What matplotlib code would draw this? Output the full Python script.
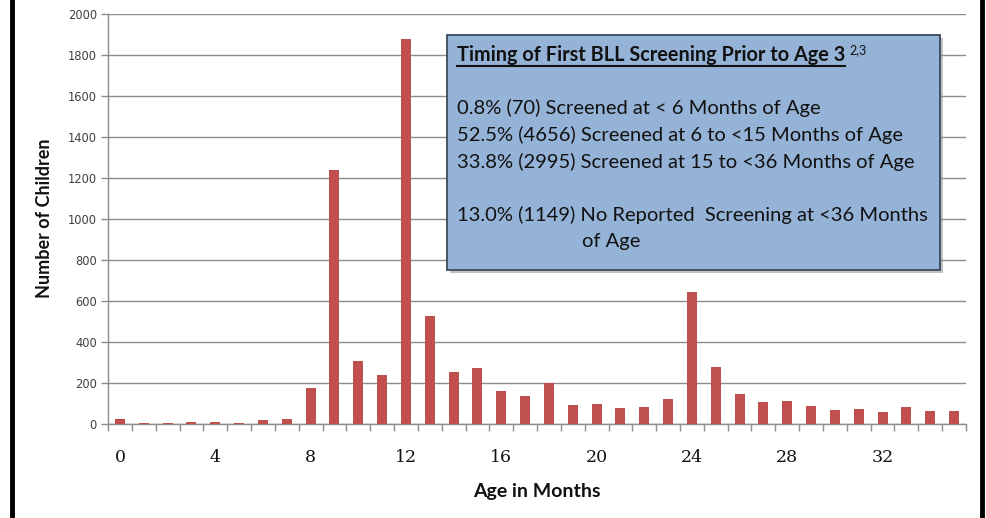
import matplotlib
matplotlib.use("Agg")
import matplotlib.pyplot as plt
from matplotlib.patches import Rectangle
from matplotlib.lines import Line2D

# ---- data ----
ages = list(range(36))
children = [25, 5, 5, 10, 10, 5, 20, 25, 175, 1237, 309, 238, 1876, 526, 253, 274,
            161, 136, 200, 95, 100, 77, 83, 120, 645, 280, 147, 105, 110, 88,
            67, 73, 57, 83, 62, 62]
xtick_vals = [0, 4, 8, 12, 16, 20, 24, 28, 32]
ytick_vals = list(range(0, 2001, 200))

box_title = "Timing of First BLL Screening Prior to Age 3"
box_sup = "2,3"
box_lines = [
    "0.8% (70) Screened at < 6 Months of Age",
    "52.5% (4656) Screened at 6 to <15 Months of Age",
    "33.8% (2995) Screened at 15 to <36 Months of Age",
]
box_last = "13.0% (1149) No Reported  Screening at <36 Months"
box_last2 = "of Age"

W, H = 986, 518
fig = plt.figure(figsize=(W / 100, H / 100), dpi=100)
fig.patch.set_facecolor("white")

def fx(px):
    return px / W

def fy(py):
    return 1 - py / H

ax = fig.add_axes([fx(108), fy(424), fx(966) - fx(108), fy(14) - fy(424)])
ax.bar(ages, children, width=0.42, color="#C0504D", zorder=3)
ax.set_xlim(-0.5, 35.5)
ax.set_ylim(0, 2000)

ax.set_yticks(ytick_vals)
ax.set_yticklabels([str(v) for v in ytick_vals], fontsize=8.3, color="#404040",
                   family="DejaVu Sans")
ax.tick_params(axis="y", length=5, color="#8c8c8c", width=1, pad=3)
ax.yaxis.grid(True, color="#8c8c8c", linewidth=1)
ax.set_axisbelow(True)

ax.set_xticks(xtick_vals)
ax.set_xticklabels([str(v) for v in xtick_vals], fontsize=12.5, family="DejaVu Serif",
                   color="#111111")
ax.set_xticks([a - 0.5 for a in ages] + [35.5], minor=True)
ax.tick_params(axis="x", which="major", length=0, pad=18)
ax.tick_params(axis="x", which="minor", length=5, color="#8c8c8c", width=1)

for s in ["top", "right"]:
    ax.spines[s].set_visible(False)
for s in ["left", "bottom"]:
    ax.spines[s].set_color("#8c8c8c")
    ax.spines[s].set_linewidth(1)

# axis labels
fig.text(fx(45), fy(218), "Number of Children", rotation=90, ha="center", va="center",
         fontsize=13, fontweight="bold", family="Lato", color="#111111")
fig.text(fx(537), fy(491), "Age in Months", ha="center", va="center",
         fontsize=14, fontweight="bold", family="Lato", color="#111111")

# black frame lines left/right
fig.add_artist(Line2D([fx(12), fx(12)], [0, 1], color="black", linewidth=3.5,
                      transform=fig.transFigure))
fig.add_artist(Line2D([fx(982), fx(982)], [0, 1], color="black", linewidth=3.5,
                      transform=fig.transFigure))

# text box with shadow
bx0, bx1, by0, by1 = 447, 940, 35, 270
shadow = Rectangle((fx(bx0 + 3), fy(by1 + 3)), fx(bx1) - fx(bx0), fy(by0) - fy(by1),
                   transform=fig.transFigure, facecolor="#9a9a9a", edgecolor="none",
                   alpha=0.6, zorder=4)
fig.add_artist(shadow)
box = Rectangle((fx(bx0), fy(by1)), fx(bx1) - fx(bx0), fy(by0) - fy(by1),
                transform=fig.transFigure, facecolor="#95B3D7", edgecolor="#3a4a5c",
                linewidth=1.3, zorder=5)
fig.add_artist(box)

tx = 457
title = fig.text(fx(tx), fy(55), box_title, ha="left", va="center", fontsize=14.3,
                 fontweight="bold", family="Lato", color="#111111", zorder=6)
fig.canvas.draw()
r = fig.canvas.get_renderer()
bb = title.get_window_extent(renderer=r)
fig.add_artist(Line2D([bb.x0 / W, bb.x1 / W], [(bb.y0 - 1) / H, (bb.y0 - 1) / H],
                      color="#111111", linewidth=1.5, transform=fig.transFigure, zorder=6))
fig.text((bb.x1 + 4) / W, fy(50), box_sup, ha="left", va="center", fontsize=9,
         family="Lato", color="#111111", zorder=6)

for y, line in zip([108, 135, 162], box_lines):
    fig.text(fx(tx), fy(y), line, ha="left", va="center", fontsize=14.5,
             family="Lato", color="#111111", zorder=6)
fig.text(fx(tx), fy(215), box_last, ha="left", va="center", fontsize=14.5,
         family="Lato", color="#111111", zorder=6)
fig.text(fx(582), fy(242), box_last2, ha="left", va="center", fontsize=14.5,
         family="Lato", color="#111111", zorder=6)

fig.savefig("out.png", dpi=100)
